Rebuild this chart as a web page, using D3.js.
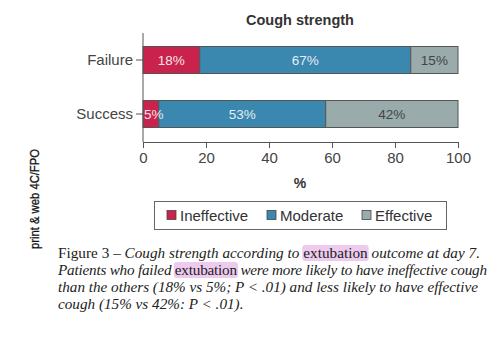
<!DOCTYPE html>
<html><head><meta charset="utf-8">
<script src="https://cdn.jsdelivr.net/npm/d3@7"></script>
<style>body{margin:0;background:#fff}svg{display:block}</style>
</head><body>
<script>
const groups = ["Failure", "Success"];
const categories = ["Ineffective", "Moderate", "Effective"];
const ineffective = [18, 5];
const moderate = [67, 53];
const effective = [15, 42];
const xTicks = [0, 20, 40, 60, 80, 100];
const colors = ["#c9224c", "#3a87b0", "#9aabac"];
const labelColors = ["#f2e6ea", "#e4eef4", "#444"];
const captionLines = [
  [{t:"Figure 3 – ", i:false}, {t:"Cough strength according to ", i:true}, {t:"extubation", i:false, h:true}, {t:" outcome at day 7.", i:true}],
  [{t:"Patients who failed ", i:true}, {t:"extubation", i:false, h:true}, {t:" were more likely to have ineffective cough", i:true}],
  [{t:"than the others (18% vs 5%; P < .01) and less likely to have effective", i:true}],
  [{t:"cough (15% vs 42%: P < .01).", i:true}]
];

const W = 500, H = 353;
const svg = d3.select("body").append("svg").attr("width", W).attr("height", H);

const x = d3.scaleLinear().domain([0, 100]).range([143, 458]);
const y = d3.scaleBand().domain(groups).range([33, 141]).paddingInner(0.5).paddingOuter(0.25);

const rows = groups.map((g, i) => {
  const vals = [ineffective[i], moderate[i], effective[i]];
  let acc = 0;
  return {g, segs: vals.map((v, k) => { const s = {k, v, x0: acc, x1: acc + v}; acc += v; return s; })};
});

svg.append("text").attr("x", 300).attr("y", 25).attr("text-anchor", "middle")
  .attr("font-family", "Liberation Sans, Arial, sans-serif").attr("font-weight", "bold")
  .attr("font-size", 14.5).attr("fill", "#333").text("Cough strength");

const gRows = svg.selectAll("g.row").data(rows).join("g").attr("class", "row");
gRows.selectAll("rect").data(d => d.segs.map(s => ({...s, g: d.g}))).join("rect")
  .attr("x", d => x(d.x0)).attr("width", d => x(d.x1) - x(d.x0))
  .attr("y", d => y(d.g)).attr("height", y.bandwidth())
  .attr("fill", d => colors[d.k]).attr("stroke", "#555").attr("stroke-width", 1);
gRows.selectAll("text").data(d => d.segs.map(s => ({...s, g: d.g}))).join("text")
  .attr("x", d => d.v < 8 ? x(d.x0) + 1 : x((d.x0 + d.x1) / 2))
  .attr("text-anchor", d => d.v < 8 ? "start" : "middle")
  .attr("y", d => y(d.g) + y.bandwidth() / 2 + 5)
  .attr("font-family", "Liberation Sans, Arial, sans-serif").attr("font-size", 13.5)
  .attr("fill", d => labelColors[d.k]).text(d => d.v + "%");

// axes
const xAxis = svg.append("g").attr("transform", "translate(0,142)")
  .call(d3.axisBottom(x).tickValues(xTicks).tickSize(6).tickPadding(4));
const yAxis = svg.append("g").attr("transform", "translate(143,0)")
  .call(d3.axisLeft(y).tickSize(7).tickPadding(3));
yAxis.select(".domain").attr("d", "M0,33V142");
[xAxis, yAxis].forEach(a => {
  a.selectAll("path,line").attr("stroke", "#555");
  a.selectAll("text").attr("font-family", "Liberation Sans, Arial, sans-serif")
    .attr("font-size", 15).attr("fill", "#444");
});
svg.append("text").attr("x", 300).attr("y", 188).attr("text-anchor", "middle")
  .attr("font-family", "Liberation Sans, Arial, sans-serif").attr("font-weight", "bold")
  .attr("font-size", 14).attr("fill", "#333").text("%");

// legend
svg.append("rect").attr("x", 154.5).attr("y", 201.5).attr("width", 292).attr("height", 28)
  .attr("fill", "none").attr("stroke", "#666").attr("stroke-width", 1);
const legX = [167, 267, 362];
const leg = svg.selectAll("g.leg").data(categories).join("g").attr("class", "leg")
  .attr("transform", (d, i) => `translate(${legX[i]},215)`);
leg.append("rect").attr("x", 0).attr("y", -4.5).attr("width", 9).attr("height", 9)
  .attr("fill", (d, i) => colors[i]).attr("stroke", "#444").attr("stroke-width", 0.8);
leg.append("text").attr("x", 13).attr("y", 5.5)
  .attr("font-family", "Liberation Sans, Arial, sans-serif").attr("font-size", 15)
  .attr("fill", "#333").text(d => d);

// side label
svg.append("text").attr("transform", "translate(39,199) rotate(-90)").attr("text-anchor", "middle")
  .attr("font-family", "Liberation Sans, Arial, sans-serif").attr("font-size", 13)
  .attr("textLength", 100).attr("lengthAdjust", "spacingAndGlyphs")
  .attr("fill", "#111").attr("stroke", "#111").attr("stroke-width", 0.3)
  .text("print & web 4C/FPO");

// caption
const capX = 58, capY = [258, 275, 292, 309];
const capW = [422, 429, 420, null];
const hlG = svg.append("g");
captionLines.forEach((line, li) => {
  const t = svg.append("text").attr("x", capX).attr("y", capY[li])
    .attr("font-family", "Liberation Serif, Times New Roman, serif").attr("font-size", 15.2)
    .attr("fill", "#222");
  if (capW[li]) t.attr("textLength", capW[li]).attr("lengthAdjust", "spacing");
  line.forEach(s => t.append("tspan").attr("font-style", s.i ? "italic" : "normal").text(s.t));
  let idx = 0;
  line.forEach(s => {
    if (s.h) {
      const n = t.node();
      const a = n.getStartPositionOfChar(idx).x;
      const b = n.getEndPositionOfChar(idx + s.t.length - 1).x;
      hlG.append("rect").attr("x", a - 1).attr("y", capY[li] - 13).attr("width", b - a + 2)
        .attr("height", 16).attr("rx", 3).attr("fill", "#eecbee");
    }
    idx += s.t.length;
  });
});
</script>
</body></html>
